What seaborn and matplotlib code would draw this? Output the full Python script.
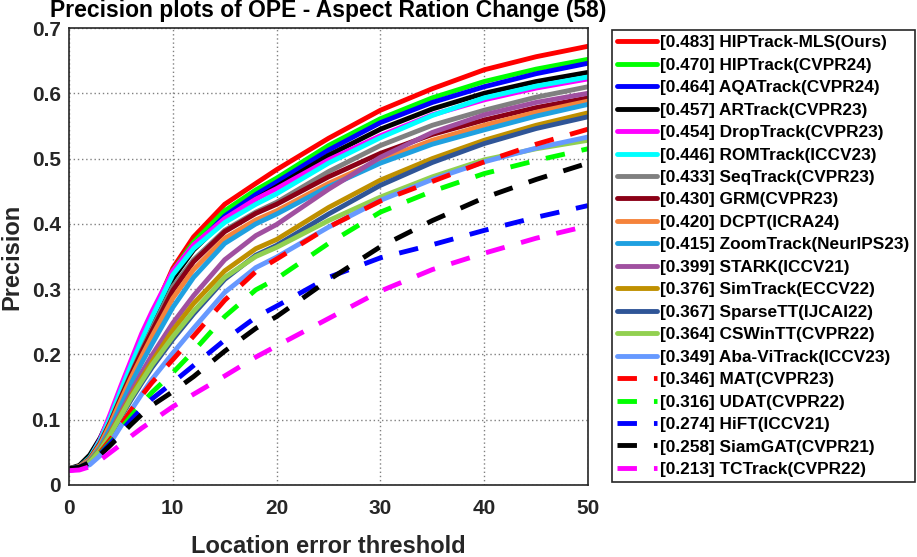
import matplotlib
matplotlib.use("Agg")
import matplotlib.pyplot as plt
import seaborn as sns
import pandas as pd

thresholds = [0, 1, 2, 3, 4, 5, 6, 7, 8, 10, 12, 15, 18, 20, 25, 30, 35, 40, 45, 50]

trackers = [
    "HIPTrack-MLS(Ours)", "HIPTrack(CVPR24)", "AQATrack(CVPR24)", "ARTrack(CVPR23)",
    "DropTrack(CVPR23)", "ROMTrack(ICCV23)", "SeqTrack(CVPR23)", "GRM(CVPR23)",
    "DCPT(ICRA24)", "ZoomTrack(NeurIPS23)", "STARK(ICCV21)", "SimTrack(ECCV22)",
    "SparseTT(IJCAI22)", "CSWinTT(CVPR22)", "Aba-ViTrack(ICCV23)", "MAT(CVPR23)",
    "UDAT(CVPR22)", "HiFT(ICCV21)", "SiamGAT(CVPR21)", "TCTrack(CVPR22)",
]
scores = [0.483, 0.470, 0.464, 0.457, 0.454, 0.446, 0.433, 0.430, 0.420, 0.415,
          0.399, 0.376, 0.367, 0.364, 0.349, 0.346, 0.316, 0.274, 0.258, 0.213]

precision = [
    [.025, .028, .040, .065, .100, .140, .180, .222, .260, .332, .380, .430, .462, .483, .531, .574, .607, .636, .656, .672],
    [.025, .028, .041, .066, .102, .142, .182, .220, .257, .328, .372, .420, .452, .470, .520, .561, .593, .618, .637, .652],
    [.025, .028, .040, .064, .098, .137, .176, .213, .249, .318, .364, .412, .445, .464, .513, .555, .586, .610, .630, .646],
    [.025, .030, .046, .072, .106, .142, .180, .215, .249, .316, .360, .406, .438, .457, .505, .545, .576, .600, .618, .632],
    [.022, .025, .040, .070, .110, .152, .192, .232, .266, .328, .368, .408, .438, .454, .498, .535, .567, .590, .608, .622],
    [.025, .028, .042, .068, .104, .145, .184, .222, .257, .322, .362, .402, .430, .446, .493, .532, .566, .593, .611, .625],
    [.025, .028, .040, .064, .097, .135, .172, .207, .240, .304, .345, .390, .418, .433, .480, .520, .551, .574, .594, .610],
    [.025, .028, .040, .064, .097, .134, .170, .204, .236, .298, .342, .388, .416, .430, .472, .508, .537, .559, .578, .593],
    [.025, .028, .039, .062, .094, .130, .165, .197, .228, .286, .330, .378, .406, .420, .462, .498, .528, .551, .571, .588],
    [.025, .027, .037, .058, .088, .122, .156, .187, .216, .272, .318, .370, .400, .415, .457, .493, .522, .544, .565, .583],
    [.025, .027, .036, .055, .082, .112, .143, .172, .199, .248, .290, .345, .382, .399, .453, .502, .540, .567, .586, .600],
    [.025, .027, .036, .055, .080, .108, .137, .164, .189, .237, .278, .328, .362, .376, .425, .467, .500, .528, .551, .570],
    [.025, .027, .035, .053, .077, .104, .131, .156, .180, .223, .262, .315, .352, .367, .415, .459, .494, .523, .546, .564],
    [.025, .027, .035, .053, .078, .106, .134, .159, .184, .227, .266, .318, .350, .364, .405, .441, .472, .498, .515, .528],
    [.025, .026, .031, .045, .065, .090, .115, .139, .162, .202, .240, .295, .333, .349, .395, .436, .468, .495, .516, .533],
    [.025, .027, .035, .050, .070, .092, .115, .137, .157, .192, .228, .283, .327, .346, .395, .435, .465, .495, .522, .545],
    [.025, .027, .034, .048, .066, .086, .106, .125, .142, .172, .205, .258, .299, .316, .370, .418, .450, .477, .497, .515],
    [.025, .027, .034, .047, .064, .082, .100, .117, .132, .157, .183, .222, .257, .274, .318, .348, .368, .390, .410, .428],
    [.025, .027, .034, .046, .061, .077, .093, .108, .122, .143, .166, .205, .240, .258, .314, .365, .405, .440, .468, .493],
    [.022, .023, .028, .038, .050, .062, .075, .087, .098, .120, .139, .167, .196, .213, .255, .297, .330, .355, .378, .397],
]

colors = [
    "#FF0000", "#00FF00", "#0000FF", "#000000", "#FF00FF", "#00FFFF", "#808080",
    "#8B0016", "#F5833B", "#1FA0E0", "#A050A0", "#BF9000", "#2F5597", "#92D050",
    "#6699FF", "#FF0000", "#00FF00", "#0000FF", "#000000", "#FF00FF",
]
dashed = [False] * 15 + [True] * 5

rows = []
for name, vals in zip(trackers, precision):
    for t, p in zip(thresholds, vals):
        rows.append({"tracker": name, "threshold": t, "precision": p})
df = pd.DataFrame(rows)

sns.set_theme(style="white")
plt.rcParams["font.family"] = ["Liberation Sans", "DejaVu Sans"]
plt.rcParams["font.weight"] = "bold"

fig = plt.figure(figsize=(9.17, 5.57), dpi=100)
ax = fig.add_axes([69 / 917, 72 / 557, 519 / 917, 457 / 557])

for name, score, col, dsh in zip(trackers, scores, colors, dashed):
    sub = df[df["tracker"] == name]
    ls = (0, (4, 3.5)) if dsh else "-"
    sns.lineplot(data=sub, x="threshold", y="precision", ax=ax, color=col,
                 linewidth=3.5, linestyle=ls, label=f"[{score:.3f}] {name}")

ax.set_xlim(0, 50)
ax.set_ylim(0, 0.7)
ax.set_xticks(range(0, 51, 10))
ax.set_yticks([0, 0.1, 0.2, 0.3, 0.4, 0.5, 0.6, 0.7])
ax.set_yticklabels(["0", "0.1", "0.2", "0.3", "0.4", "0.5", "0.6", "0.7"])
ax.grid(True, linestyle=(0, (1, 2)), color="#808080", linewidth=1.0)
ax.tick_params(axis="both", direction="in", length=4, width=1, colors="#262626",
               labelsize=15)
ax.tick_params(axis="x", pad=10)
ax.tick_params(axis="y", pad=6)
for lab in ax.get_xticklabels() + ax.get_yticklabels():
    lab.set_fontweight("bold")
for sp in ax.spines.values():
    sp.set_color("#262626")
    sp.set_linewidth(1.2)

ax.set_xlabel("Location error threshold", fontsize=17, fontweight="bold",
              color="#262626", labelpad=12)
ax.set_ylabel("Precision", fontsize=17, fontweight="bold", color="#262626",
              labelpad=6)
fig.text(328 / 917, 1 - 17 / 557, "Precision plots of OPE - Aspect Ration Change (58)",
         ha="center", va="baseline", fontsize=16.5, fontweight="bold", color="black")

leg = ax.legend(loc="upper left", bbox_to_anchor=(612 / 917, 1 - 30 / 557),
                bbox_transform=fig.transFigure, fontsize=12.4, frameon=True,
                fancybox=False, framealpha=1, edgecolor="#262626",
                borderpad=0.3, labelspacing=0.43, handlelength=2.3,
                handletextpad=0.2, borderaxespad=0)
leg.get_frame().set_linewidth(1.2)
for txt in leg.get_texts():
    txt.set_fontweight("bold")
    txt.set_color("black")

fig.savefig("out.png", dpi=100)
